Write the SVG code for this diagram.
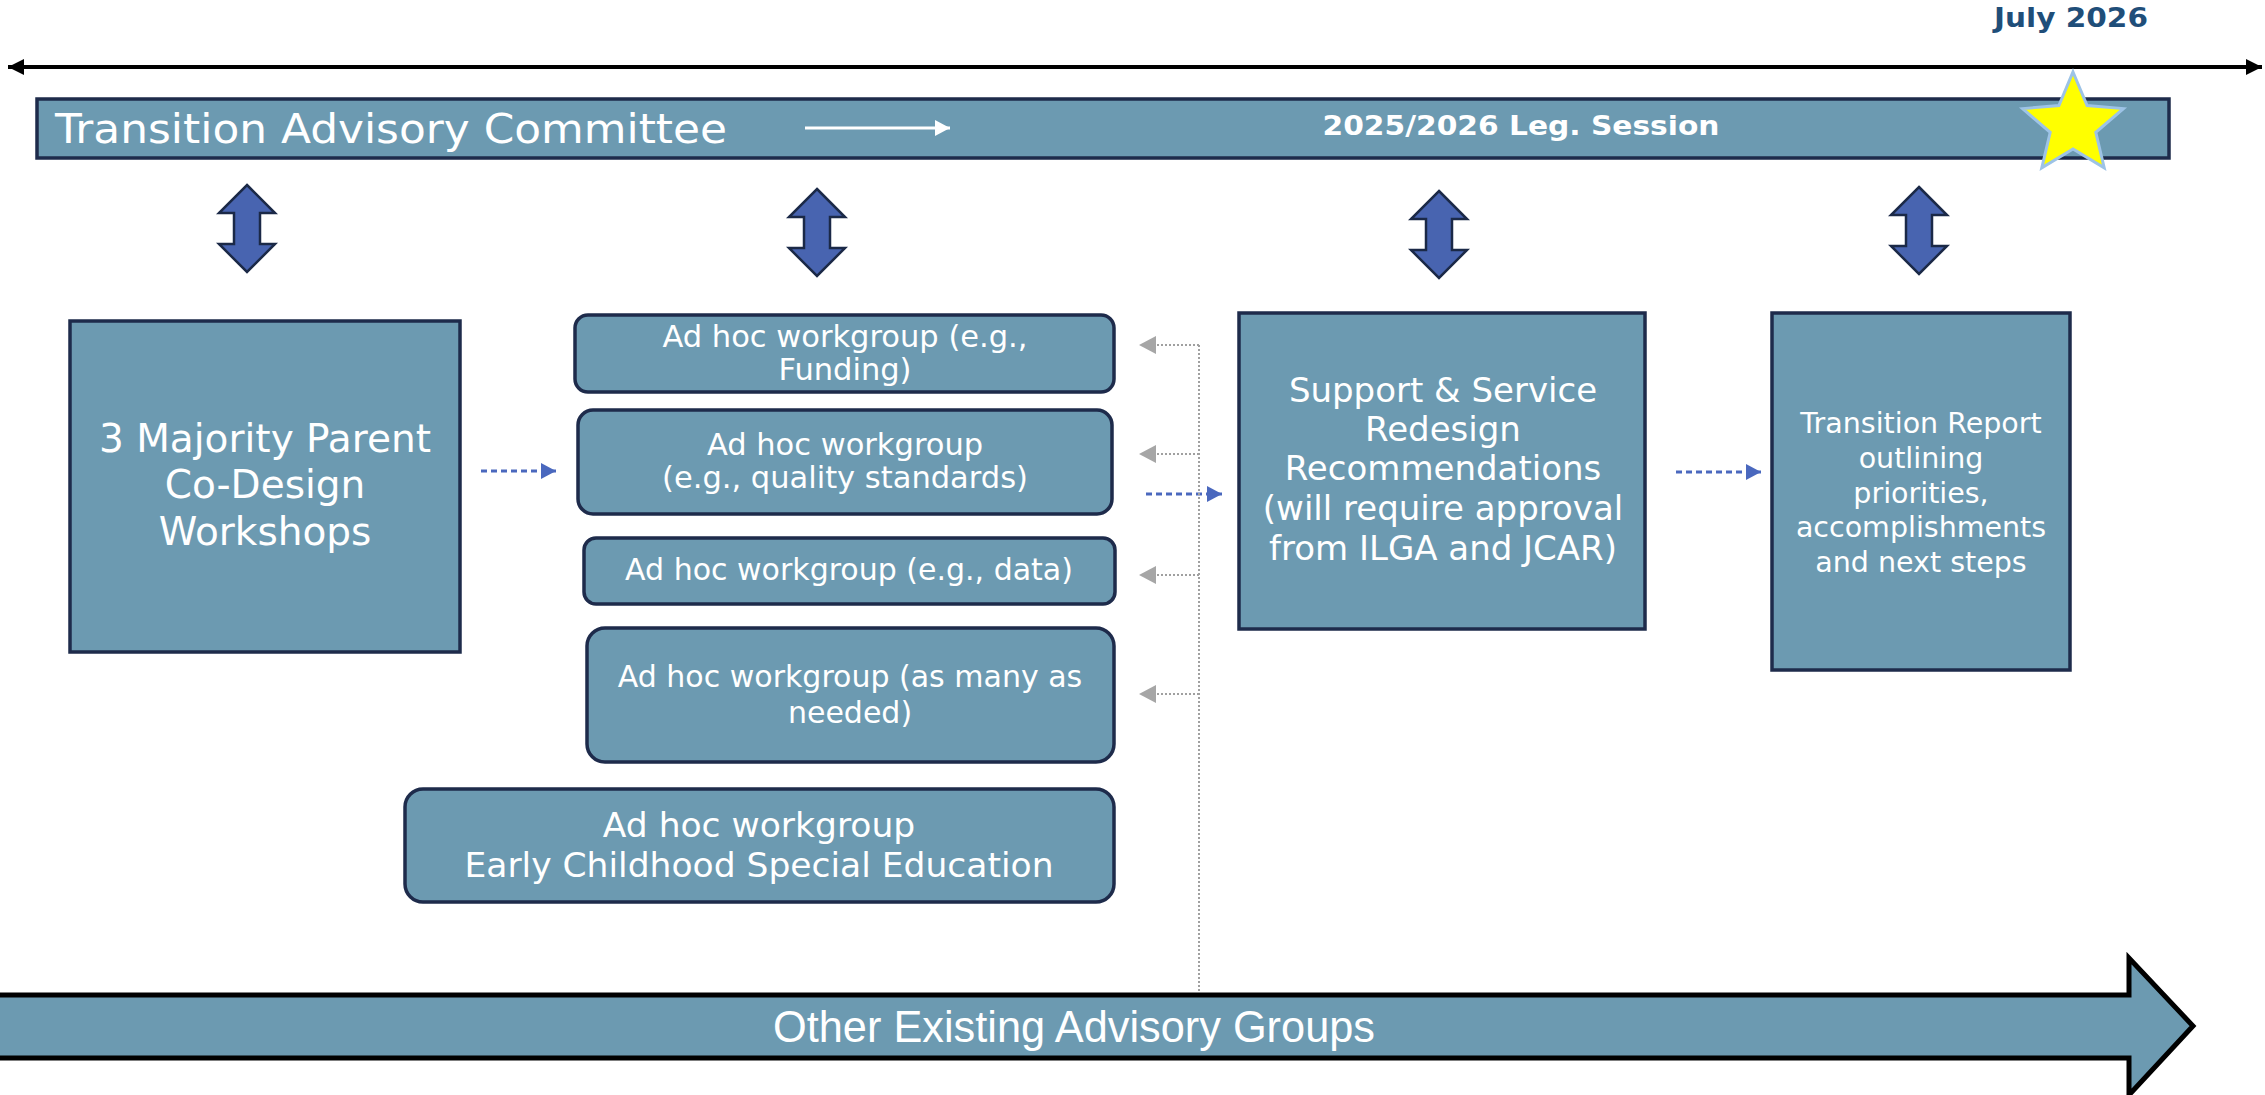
<svg xmlns="http://www.w3.org/2000/svg" xmlns:xlink="http://www.w3.org/1999/xlink" width="2265" height="1095" viewBox="0 0 2265 1095">
<style>
.box{fill:#6C9AB1;stroke:#1E2B4B;stroke-width:3.5}
.t{font-family:"DejaVu Sans",Verdana,sans-serif;fill:#FFFFFF;text-anchor:middle}
.dbl{fill:#4864B0;stroke:#1B2947;stroke-width:2.5;stroke-linejoin:miter}
.blue{stroke:#4A68BE;stroke-width:3;stroke-dasharray:6 4;fill:none}
.gray{stroke:#A0A0A0;stroke-width:2;stroke-dasharray:2 2;fill:none}
</style>
<defs>
<marker id="bh" markerUnits="userSpaceOnUse" markerWidth="16" markerHeight="16" refX="15" refY="8" orient="auto"><path d="M0,0 L15,8 L0,16 z" fill="#4A68BE"/></marker>
<marker id="gh" markerUnits="userSpaceOnUse" markerWidth="18" markerHeight="18" refX="17" refY="9" orient="auto"><path d="M0,0 L17,9 L0,18 z" fill="#A6A6A6"/></marker>
<marker id="kh" markerUnits="userSpaceOnUse" markerWidth="18" markerHeight="18" refX="16" refY="9" orient="auto-start-reverse"><path d="M0,1 L16,9 L0,17 z" fill="#000"/></marker>
<marker id="wh" markerUnits="userSpaceOnUse" markerWidth="16" markerHeight="16" refX="15" refY="8" orient="auto"><path d="M0,0 L15,8 L0,16 z" fill="#FFF"/></marker>
<path id="dbl" d="M0,0 L28,28 L13,28 L13,59 L28,59 L0,87 L-28,59 L-13,59 L-13,28 L-28,28 Z"/>
</defs>

<g id="timeline">
<line x1="8" y1="67" x2="2262" y2="67" stroke="#000" stroke-width="4" marker-start="url(#kh)" marker-end="url(#kh)"/>
<text x="2148" y="27" font-family="'DejaVu Sans',Verdana,sans-serif" font-weight="bold" font-size="26" fill="#1F4E79" text-anchor="end" textLength="154" lengthAdjust="spacingAndGlyphs">July 2026</text>
</g>

<g id="tac">
<rect x="37" y="99" width="2132" height="59" class="box" stroke-width="3"/>
<text x="55" y="143" class="t" style="text-anchor:start" font-size="41" textLength="672" lengthAdjust="spacingAndGlyphs">Transition Advisory Committee</text>
<line x1="805" y1="128" x2="950" y2="128" stroke="#FFF" stroke-width="3" marker-end="url(#wh)"/>
<text x="1521" y="135" class="t" font-weight="bold" font-size="27" textLength="397" lengthAdjust="spacingAndGlyphs">2025/2026 Leg. Session</text>
</g>

<g id="star">
<polygon points="2073,72 2087.1,105.6 2123.4,108.6 2095.8,132.4 2104.2,167.9 2073,149 2041.8,167.9 2050.2,132.4 2022.6,108.6 2058.9,105.6" fill="#FFFF00" stroke="#9DC3E6" stroke-width="3"/>
</g>

<g id="double-arrows">
<use xlink:href="#dbl" class="dbl" x="247" y="185"/>
<use xlink:href="#dbl" class="dbl" x="817" y="189"/>
<use xlink:href="#dbl" class="dbl" x="1439" y="191"/>
<use xlink:href="#dbl" class="dbl" x="1919" y="187"/>
</g>

<g id="workshops">
<rect x="70" y="321" width="390" height="331" class="box"/>
<text class="t" font-size="39"><tspan x="265" y="452">3 Majority Parent</tspan><tspan x="265" y="498">Co-Design</tspan><tspan x="265" y="545">Workshops</tspan></text>
</g>

<g id="adhoc-funding">
<rect x="575" y="315" width="539" height="77" rx="13" class="box"/>
<text class="t" font-size="30.5"><tspan x="845" y="347">Ad hoc workgroup (e.g.,</tspan><tspan x="845" y="380">Funding)</tspan></text>
</g>

<g id="adhoc-quality">
<rect x="578" y="410" width="534" height="104" rx="15" class="box"/>
<text class="t" font-size="30.5"><tspan x="845" y="455">Ad hoc workgroup</tspan><tspan x="845" y="488">(e.g., quality standards)</tspan></text>
</g>

<g id="adhoc-data">
<rect x="584" y="538" width="531" height="66" rx="12" class="box"/>
<text class="t" font-size="30" x="849" y="580">Ad hoc workgroup (e.g., data)</text>
</g>

<g id="adhoc-many">
<rect x="587" y="628" width="527" height="134" rx="18" class="box"/>
<text class="t" font-size="30"><tspan x="850" y="687">Ad hoc workgroup (as many as</tspan><tspan x="850" y="723">needed)</tspan></text>
</g>

<g id="adhoc-ecse">
<rect x="405" y="789" width="709" height="113" rx="18" class="box"/>
<text class="t" font-size="34.5"><tspan x="759" y="837">Ad hoc workgroup</tspan><tspan x="759" y="877">Early Childhood Special Education</tspan></text>
</g>

<g id="recommendations">
<rect x="1239" y="313" width="406" height="316" class="box"/>
<text class="t" font-size="34"><tspan x="1443" y="402">Support &amp; Service</tspan><tspan x="1443" y="441">Redesign</tspan><tspan x="1443" y="480">Recommendations</tspan><tspan x="1443" y="520">(will require approval</tspan><tspan x="1443" y="560">from ILGA and JCAR)</tspan></text>
</g>

<g id="report">
<rect x="1772" y="313" width="298" height="357" class="box"/>
<text class="t" font-size="28.5"><tspan x="1921" y="433">Transition Report</tspan><tspan x="1921" y="468">outlining</tspan><tspan x="1921" y="503">priorities,</tspan><tspan x="1921" y="537">accomplishments</tspan><tspan x="1921" y="572">and next steps</tspan></text>
</g>

<g id="other-groups">
<path d="M-5,995 H2129 V958 L2193,1026 L2129,1095 V1058 H-5 Z" fill="#6C9AB1" stroke="#000" stroke-width="5" stroke-linejoin="miter"/>
<text x="1074" y="1042" font-family="'Liberation Sans',Arial,sans-serif" font-size="44" fill="#FFFFFF" text-anchor="middle" textLength="602" lengthAdjust="spacingAndGlyphs">Other Existing Advisory Groups</text>
</g>

<g id="connectors">
<line x1="481" y1="471" x2="556" y2="471" class="blue" marker-end="url(#bh)"/>
<line x1="1146" y1="494" x2="1222" y2="494" class="blue" marker-end="url(#bh)"/>
<line x1="1676" y1="472" x2="1761" y2="472" class="blue" marker-end="url(#bh)"/>
<line x1="1199" y1="345" x2="1199" y2="993" class="gray"/>
<line x1="1199" y1="345" x2="1139" y2="345" class="gray" marker-end="url(#gh)"/>
<line x1="1199" y1="454" x2="1139" y2="454" class="gray" marker-end="url(#gh)"/>
<line x1="1199" y1="575" x2="1139" y2="575" class="gray" marker-end="url(#gh)"/>
<line x1="1199" y1="694" x2="1139" y2="694" class="gray" marker-end="url(#gh)"/>
</g>
</svg>
